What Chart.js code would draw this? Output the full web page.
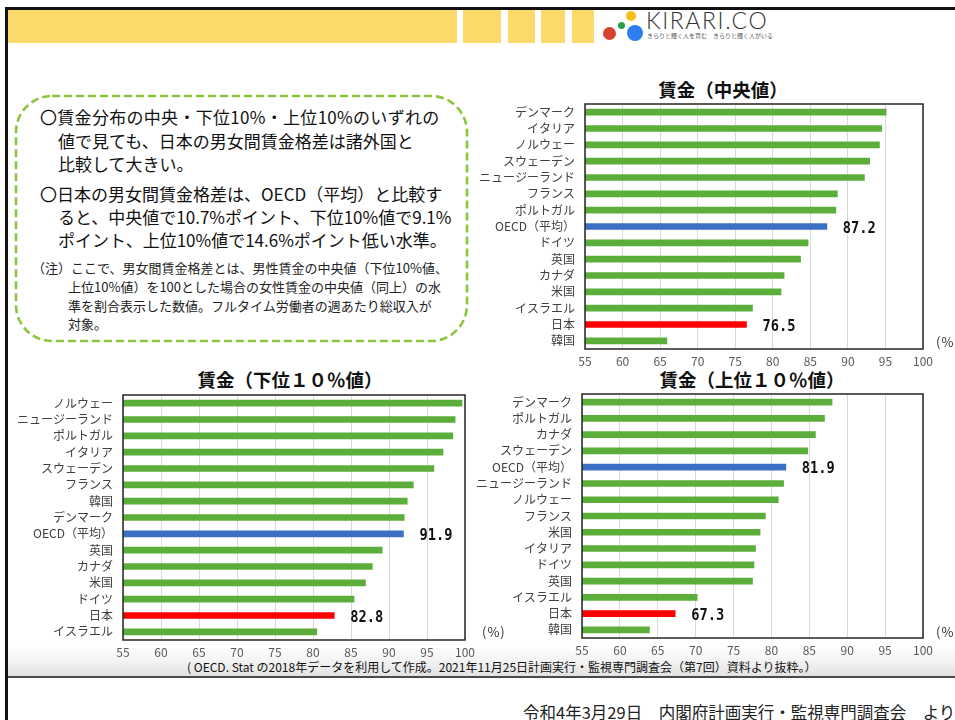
<!DOCTYPE html>
<html lang="ja">
<head>
<meta charset="utf-8">
<script src="https://cdn.jsdelivr.net/npm/chart.js@4.4.1/dist/chart.umd.min.js"></script>
<style>
html,body{margin:0;padding:0;width:955px;height:720px;overflow:hidden;background:#fff;}
body{position:relative;font-family:"Noto Sans CJK JP","Noto Sans",sans-serif;color:#000;}
.a{position:absolute;white-space:nowrap;}
.blk{position:absolute;background:#111;}
.yl{position:absolute;top:10px;height:33px;background:#fcd96b;}
.dot{position:absolute;border-radius:50%;}
.bx{font-size:17px;line-height:17px;color:#111;}
.nt{font-size:13px;line-height:13px;color:#222;}
.ttl{font-size:18.5px;line-height:19px;font-weight:bold;color:#111;transform:translateX(-50%);}
canvas{position:absolute;}
</style>
</head>
<body>
<!-- frame -->
<div class="blk" style="left:5px;top:7px;width:950px;height:3px;"></div>
<div class="blk" style="left:5px;top:7px;width:3px;height:713px;"></div>
<!-- yellow header -->
<div class="yl" style="left:8px;width:449px;"></div>
<div class="yl" style="left:463px;width:38px;"></div>
<div class="yl" style="left:508px;width:27px;"></div>
<div class="yl" style="left:541px;width:24px;"></div>
<div class="yl" style="left:572px;width:22px;"></div>
<!-- logo -->
<div class="dot" style="left:603px;top:27px;width:13px;height:13px;background:#d8412f;"></div>
<div class="dot" style="left:618px;top:22px;width:7px;height:7px;background:#27a048;"></div>
<div class="dot" style="left:626px;top:11px;width:10px;height:10px;background:#f6c01a;"></div>
<div class="dot" style="left:627px;top:25px;width:16px;height:16px;background:#2f7ef0;"></div>
<div class="a" style="left:646px;top:9px;font-family:Lato,'Open Sans',sans-serif;font-weight:300;font-size:23px;line-height:23px;letter-spacing:1.6px;color:#333;">KIRARI.CO</div>
<div class="a" style="left:647px;top:33px;font-size:6px;line-height:6px;color:#555;">きらりと輝く人を育む　きらりと輝く人がいる</div>

<!-- text box -->
<svg class="a" style="left:0;top:0;" width="480" height="360">
  <rect x="16" y="96" width="451" height="245" rx="36" ry="36" fill="none" stroke="#8cc63f" stroke-width="2.6" stroke-dasharray="8 4"/>
</svg>
<div class="a bx" style="left:40px;top:108px;letter-spacing:0.3px;">〇賃金分布の中央・下位10%・上位10%のいずれの</div>
<div class="a bx" style="left:58px;top:132px;">値で見ても、日本の男女間賃金格差は諸外国と</div>
<div class="a bx" style="left:58px;top:155px;">比較して大きい。</div>
<div class="a bx" style="left:40px;top:185px;">〇日本の男女間賃金格差は、OECD（平均）と比較す</div>
<div class="a bx" style="left:58px;top:208px;">ると、中央値で10.7%ポイント、下位10%値で9.1%</div>
<div class="a bx" style="left:58px;top:231px;">ポイント、上位10%値で14.6%ポイント低い水準。</div>
<div class="a nt" style="left:32px;top:261px;">（注）ここで、男女間賃金格差とは、男性賃金の中央値（下位10%値、</div>
<div class="a nt" style="left:68px;top:280px;">上位10%値）を100とした場合の女性賃金の中央値（同上）の水</div>
<div class="a nt" style="left:68px;top:299px;">準を割合表示した数値。フルタイム労働者の週あたり総収入が</div>
<div class="a nt" style="left:68px;top:317px;">対象。</div>

<!-- footer band -->
<div class="a" style="left:8px;top:646px;width:947px;height:30px;background:linear-gradient(to bottom,#ffffff 0%,#f4f4f4 45%,#e2e2e2 100%);border-bottom:2px solid #4a4a4a;"></div>
<div class="a" style="left:187px;top:660px;font-size:12px;line-height:13px;color:#111;">( OECD. Stat の2018年データを利用して作成。2021年11月25日計画実行・監視専門調査会（第7回）資料より抜粋。）</div>
<div class="a" style="left:523px;top:703px;font-size:16.5px;line-height:18px;color:#222;">令和4年3月29日　内閣府計画実行・監視専門調査会　より</div>

<!-- chart titles -->
<div class="a ttl" id="t1" style="left:723px;top:80px;"></div>
<div class="a ttl" id="t2" style="left:290px;top:370px;"></div>
<div class="a ttl" id="t3" style="left:752px;top:370px;"></div>

<canvas id="c1" width="515" height="300" style="left:440px;top:75px;"></canvas>
<canvas id="c2" width="480" height="300" style="left:0px;top:365px;"></canvas>
<canvas id="c3" width="515" height="300" style="left:440px;top:365px;"></canvas>

<div class="a" style="left:936px;top:334px;font-size:13px;line-height:15px;color:#333;letter-spacing:1px;">(%)</div>
<div class="a" style="left:482px;top:624px;font-size:13px;line-height:15px;color:#333;letter-spacing:1px;">(%)</div>
<div class="a" style="left:936px;top:624px;font-size:13px;line-height:15px;color:#333;letter-spacing:1px;">(%)</div>

<script>
// ---- data ----
const medianTitle = '賃金（中央値）';
const medianCategories = ['デンマーク','イタリア','ノルウェー','スウェーデン','ニュージーランド','フランス','ポルトガル','OECD（平均）','ドイツ','英国','カナダ','米国','イスラエル','日本','韓国'];
const medianValues = [95.1,94.5,94.2,92.9,92.2,88.6,88.4,87.2,84.7,83.7,81.5,81.1,77.3,76.5,65.9];

const bottom10Title = '賃金（下位１０％値）';
const bottom10Categories = ['ノルウェー','ニュージーランド','ポルトガル','イタリア','スウェーデン','フランス','韓国','デンマーク','OECD（平均）','英国','カナダ','米国','ドイツ','日本','イスラエル'];
const bottom10Values = [99.6,98.7,98.4,97.1,95.9,93.2,92.4,92.0,91.9,89.1,87.8,86.9,85.4,82.8,80.5];

const top10Title = '賃金（上位１０％値）';
const top10Categories = ['デンマーク','ポルトガル','カナダ','スウェーデン','OECD（平均）','ニュージーランド','ノルウェー','フランス','米国','イタリア','ドイツ','英国','イスラエル','日本','韓国'];
const top10Values = [88.0,87.0,85.8,84.8,81.9,81.6,80.9,79.2,78.5,77.9,77.7,77.5,70.2,67.3,63.9];

const axisMin = 55, axisMax = 100, axisStep = 5;
const oecdName = 'OECD（平均）';
const japanName = '日本';
const labeledCategories = [oecdName, japanName];

// ---- styling ----
const GREEN = '#5cae3a', BLUE = '#3b6fc4', RED = '#ff0000';
function colorFor(name){ return name === oecdName ? BLUE : (name === japanName ? RED : GREEN); }

document.getElementById('t1').textContent = medianTitle;
document.getElementById('t2').textContent = bottom10Title;
document.getElementById('t3').textContent = top10Title;

const boxPlugin = {
  id:'plotBox',
  afterDatasetsDraw(chart){
    const a = chart.chartArea, ctx = chart.ctx;
    ctx.save();
    ctx.strokeStyle = '#262626';
    ctx.lineWidth = 1.5;
    ctx.strokeRect(a.left, a.top, a.right - a.left, a.bottom - a.top);
    ctx.restore();
  }
};

const valueLabelPlugin = {
  id:'valueLabels',
  afterDatasetsDraw(chart){
    const ctx = chart.ctx, xs = chart.scales.x, ys = chart.scales.y;
    const labels = chart.data.labels, vals = chart.data.datasets[0].data;
    ctx.save();
    ctx.fillStyle = '#111';
    ctx.font = 'bold 16.5px "DejaVu Sans Mono", monospace';
    ctx.textBaseline = 'middle';
    ctx.textAlign = 'left';
    labels.forEach((lab, i) => {
      if (!labeledCategories.includes(lab)) return;
      const x = xs.getPixelForValue(vals[i]) + 16;
      const y = ys.getPixelForValue(i) + 2;
      ctx.save();
      ctx.translate(x, y);
      ctx.scale(0.83, 1);
      ctx.fillText(vals[i].toFixed(1), 0, 0);
      ctx.restore();
    });
    ctx.restore();
  }
};

function makeChart(id, cats, vals, L){
  return new Chart(document.getElementById(id), {
    type:'bar',
    data:{
      labels:cats,
      datasets:[{ data:vals, backgroundColor:cats.map(colorFor), borderWidth:0, barThickness:6 }]
    },
    options:{
      indexAxis:'y',
      responsive:false,
      animation:false,
      devicePixelRatio:1,
      layout:{ padding:{ top:L.top, right:L.right, left:0, bottom:0 } },
      plugins:{ legend:{display:false}, tooltip:{enabled:false}, title:{display:false} },
      scales:{
        x:{
          min:axisMin, max:axisMax,
          ticks:{ stepSize:axisStep, padding:5, color:'#595959', font:{ size:12, family:'"Noto Sans CJK JP", sans-serif' } },
          grid:{ color:'#d9d9d9', lineWidth:1, drawTicks:false },
          border:{ display:false },
          afterFit(s){ s.height = L.xh; }
        },
        y:{
          ticks:{ padding:10, color:'#404040', autoSkip:false, font:{ size:12, family:'"Noto Sans CJK JP", sans-serif' } },
          grid:{ display:false, drawTicks:false },
          border:{ display:false },
          afterFit(s){ s.width = L.yw; }
        }
      }
    },
    plugins:[boxPlugin, valueLabelPlugin]
  });
}

makeChart('c1', medianCategories, medianValues, { top:29, right:32, xh:26, yw:145 });
makeChart('c2', bottom10Categories, bottom10Values, { top:30, right:15, xh:25, yw:123 });
makeChart('c3', top10Categories, top10Values, { top:29, right:32, xh:27, yw:142 });
</script>
</body>
</html>
